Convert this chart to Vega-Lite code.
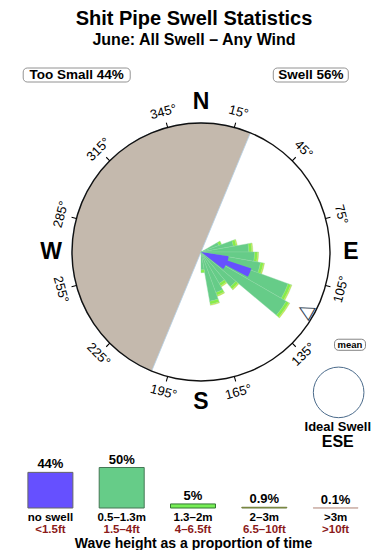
{
  "$schema": "https://vega.github.io/schema/vega-lite/v6.json",
  "autosize": {"type": "pad"},
  "padding": {"left": 12, "top": 8, "right": 0, "bottom": 0},
  "background": "white",
  "title": {
    "text": "Shit Pipe Swell Statistics",
    "subtitle": "June: All Swell – Any Wind",
    "font": "Liberation Sans",
    "subtitleFont": "Liberation Sans",
    "fontSize": 20,
    "fontWeight": "bold",
    "subtitleFontSize": 16,
    "subtitleFontWeight": "bold",
    "color": "black",
    "subtitleColor": "black",
    "anchor": "middle",
    "offset": 20,
    "subtitlePadding": 3,
    "dx": -7
  },
  "bounds": "flush",
  "spacing": 10,
  "resolve": {"scale": {"x": "independent", "y": "independent", "size": "independent", "color": "independent"}},
  "vconcat": [
    {
      "width": 363.5,
      "height": 14,
      "data": {"values": [
        {"key": "Too Small", "label": "Too Small 44%"},
        {"key": "Swell", "label": "Swell 56%"}
      ]},
      "encoding": {
        "x": {"field": "key", "type": "nominal", "sort": null, "scale": {"type": "band", "paddingInner": 0.9, "paddingOuter": 0.2264}, "axis": null}
      },
      "layer": [
        {
          "transform": [{"filter": "datum.key == 'Too Small'"}],
          "mark": {"type": "bar", "width": 107, "fill": "white", "stroke": "#777777", "strokeWidth": 0.8, "cornerRadius": 4}
        },
        {
          "transform": [{"filter": "datum.key == 'Swell'"}],
          "mark": {"type": "bar", "width": 75, "fill": "white", "stroke": "#777777", "strokeWidth": 0.8, "cornerRadius": 4}
        },
        {
          "mark": {"type": "text", "fontSize": 13.5, "fontWeight": "bold", "color": "black"},
          "encoding": {"text": {"field": "label"}}
        }
      ]
    },
    {
      "width": 378,
      "height": 320,
      "layer": [
        {
          "data": {"values": [{"from": 202.5, "to": 382.5}]},
          "mark": {"type": "arc", "outerRadius": 129, "fill": "#c4b9ad", "stroke": "#b4cfe6", "strokeWidth": 0.8},
          "encoding": {
            "theta": {"field": "from", "type": "quantitative", "scale": {"domain": [0, 360], "range": [0, 6.283185307179586], "nice": false, "zero": false}},
            "theta2": {"field": "to"}
          }
        },
        {
          "data": {"values": [
            {"dir": 65, "band": "0.5–1.3m", "from": 0, "to": 1.65},
            {"dir": 65, "band": "1.3–2m", "from": 1.65, "to": 1.9},
            {"dir": 75, "band": "0.5–1.3m", "from": 0, "to": 2.85},
            {"dir": 75, "band": "1.3–2m", "from": 2.85, "to": 3.1},
            {"dir": 75, "band": "2–3m", "from": 3.1, "to": 3.2},
            {"dir": 85, "band": "0.5–1.3m", "from": 0, "to": 4.15},
            {"dir": 85, "band": "1.3–2m", "from": 4.15, "to": 4.4},
            {"dir": 85, "band": "2–3m", "from": 4.4, "to": 4.5},
            {"dir": 95, "band": "0.5–1.3m", "from": 0, "to": 4.65},
            {"dir": 95, "band": "1.3–2m", "from": 4.65, "to": 4.9},
            {"dir": 95, "band": "2–3m", "from": 4.9, "to": 5.0},
            {"dir": 105, "band": "0.5–1.3m", "from": 0, "to": 5.25},
            {"dir": 105, "band": "1.3–2m", "from": 5.25, "to": 5.5},
            {"dir": 105, "band": "2–3m", "from": 5.5, "to": 5.6},
            {"dir": 115, "band": "0.5–1.3m", "from": 0, "to": 8.05},
            {"dir": 115, "band": "1.3–2m", "from": 8.05, "to": 8.3},
            {"dir": 115, "band": "2–3m", "from": 8.3, "to": 8.4},
            {"dir": 125, "band": "0.5–1.3m", "from": 0, "to": 8.55},
            {"dir": 125, "band": "1.3–2m", "from": 8.55, "to": 8.8},
            {"dir": 125, "band": "2–3m", "from": 8.8, "to": 8.9},
            {"dir": 135, "band": "0.5–1.3m", "from": 0, "to": 3.95},
            {"dir": 135, "band": "1.3–2m", "from": 3.95, "to": 4.2},
            {"dir": 135, "band": "2–3m", "from": 4.2, "to": 4.3},
            {"dir": 145, "band": "0.5–1.3m", "from": 0, "to": 3.15},
            {"dir": 145, "band": "1.3–2m", "from": 3.15, "to": 3.4},
            {"dir": 145, "band": "2–3m", "from": 3.4, "to": 3.5},
            {"dir": 155, "band": "0.5–1.3m", "from": 0, "to": 3.75},
            {"dir": 155, "band": "1.3–2m", "from": 3.75, "to": 4.0},
            {"dir": 155, "band": "2–3m", "from": 4.0, "to": 4.1},
            {"dir": 165, "band": "0.5–1.3m", "from": 0, "to": 4.35},
            {"dir": 165, "band": "1.3–2m", "from": 4.35, "to": 4.6},
            {"dir": 165, "band": "2–3m", "from": 4.6, "to": 4.7},
            {"dir": 175, "band": "0.5–1.3m", "from": 0, "to": 1.55},
            {"dir": 175, "band": "1.3–2m", "from": 1.55, "to": 1.8}
          ]},
          "mark": {"type": "arc", "thetaOffset": -0.0873, "theta2Offset": 0.0873, "stroke": "#8ad6a2", "strokeWidth": 0.4},
          "encoding": {
            "theta": {"field": "dir", "type": "quantitative"},
            "theta2": {"field": "dir"},
            "radius": {"field": "to", "type": "quantitative", "scale": {"type": "linear", "domain": [0, 11.2], "range": [0, 129], "nice": false, "zero": true}},
            "radius2": {"field": "from"},
            "color": {"field": "band", "type": "nominal", "scale": {"domain": ["0.5–1.3m", "1.3–2m", "2–3m"], "range": ["#66cc88", "#88ee44", "#ddee33"]}, "legend": null}
          }
        },
        {
          "data": {"values": [{"dir": 113}]},
          "mark": {"type": "arc", "innerRadius": 22, "outerRadius": 53, "thetaOffset": -0.085, "theta2Offset": 0.085, "fill": "#6650ff"},
          "encoding": {
            "theta": {"field": "dir", "type": "quantitative"},
            "theta2": {"field": "dir"}
          }
        },
        {
          "data": {"values": [{"dir": 113}]},
          "mark": {"type": "arc", "outerRadius": 28, "thetaOffset": -0.25, "theta2Offset": 0.25, "fill": "#6650ff"},
          "encoding": {
            "theta": {"field": "dir", "type": "quantitative"},
            "theta2": {"field": "dir"}
          }
        },
        {
          "data": {"values": [{}]},
          "mark": {"type": "arc", "innerRadius": 128.3, "outerRadius": 129.7, "fill": "#111111"},
          "encoding": {
            "theta": {"datum": 0, "type": "quantitative"},
            "theta2": {"datum": 360}
          }
        },
        {
          "data": {"values": [
            {"deg": 15, "lab": "15°"}, {"deg": 45, "lab": "45°"}, {"deg": 75, "lab": "75°"},
            {"deg": 105, "lab": "105°"}, {"deg": 135, "lab": "135°"}, {"deg": 165, "lab": "165°"},
            {"deg": 195, "lab": "195°"}, {"deg": 225, "lab": "225°"}, {"deg": 255, "lab": "255°"},
            {"deg": 285, "lab": "285°"}, {"deg": 315, "lab": "315°"}, {"deg": 345, "lab": "345°"}
          ]},
          "layer": [
            {
              "mark": {"type": "arc", "innerRadius": 129, "outerRadius": 134, "thetaOffset": -0.004, "theta2Offset": 0.004, "fill": "black"},
              "encoding": {
                "theta": {"field": "deg", "type": "quantitative"},
                "theta2": {"field": "deg"}
              }
            },
            {
              "mark": {"type": "text", "radius": 145, "fontSize": 13, "baseline": "middle", "align": "center", "color": "black"},
              "encoding": {
                "theta": {"field": "deg", "type": "quantitative"},
                "text": {"field": "lab"},
                "angle": {"field": "deg", "type": "quantitative", "scale": {"domain": [0, 89.9, 90.1, 269.9, 270.1, 360], "range": [0, 89.9, -89.9, 89.9, -89.9, 0]}}
              }
            }
          ]
        },
        {
          "data": {"values": [
            {"deg": 0, "lab": "N"}, {"deg": 90, "lab": "E"}, {"deg": 180, "lab": "S"}, {"deg": 270, "lab": "W"}
          ]},
          "mark": {"type": "text", "radius": 150, "fontSize": 23, "fontWeight": "bold", "baseline": "middle", "align": "center", "color": "black"},
          "encoding": {
            "theta": {"field": "deg", "type": "quantitative"},
            "text": {"field": "lab"}
          }
        },
        {
          "data": {"values": [{"dir": 119}]},
          "mark": {"type": "text", "radius": 120, "angle": 29, "fontSize": 20, "font": "DejaVu Sans", "color": "#334455", "baseline": "middle", "align": "center"},
          "encoding": {
            "theta": {"field": "dir", "type": "quantitative"},
            "text": {"value": "◁"}
          }
        },
        {
          "data": {"values": [{}]},
          "layer": [
            {
              "mark": {"type": "rect", "fill": "white", "stroke": "#666666", "strokeWidth": 0.8, "cornerRadius": 4},
              "encoding": {
                "x": {"datum": 1.035, "type": "quantitative", "scale": {"domain": [-1.465, 1.465], "nice": false, "zero": false}, "axis": null},
                "x2": {"datum": 1.275},
                "y": {"datum": -0.676, "type": "quantitative", "scale": {"domain": [-1.24, 1.24], "nice": false, "zero": false}, "axis": null},
                "y2": {"datum": -0.762}
              }
            },
            {
              "mark": {"type": "text", "fontSize": 9.5, "fontWeight": "bold", "color": "black"},
              "encoding": {
                "x": {"datum": 1.155, "type": "quantitative"},
                "y": {"datum": -0.719, "type": "quantitative"},
                "text": {"value": "mean"}
              }
            },
            {
              "mark": {"type": "point", "shape": "circle", "size": 2560, "filled": false, "stroke": "#4b6b8b", "strokeWidth": 1, "opacity": 1},
              "encoding": {
                "x": {"datum": 1.067, "type": "quantitative"},
                "y": {"datum": -1.088, "type": "quantitative"}
              }
            },
            {
              "mark": {"type": "text", "fontSize": 13, "fontWeight": "bold", "color": "black"},
              "encoding": {
                "x": {"datum": 1.06, "type": "quantitative"},
                "y": {"datum": -1.353, "type": "quantitative"},
                "text": {"value": "Ideal Swell"}
              }
            },
            {
              "mark": {"type": "text", "fontSize": 16, "fontWeight": "bold", "color": "black"},
              "encoding": {
                "x": {"datum": 1.06, "type": "quantitative"},
                "y": {"datum": -1.469, "type": "quantitative"},
                "text": {"value": "ESE"}
              }
            }
          ]
        }
      ]
    },
    {
      "width": 362,
      "height": 86,
      "data": {"values": [
        {"cat": "no swell", "ft": "<1.5ft", "pct": 44, "label": "44%"},
        {"cat": "0.5–1.3m", "ft": "1.5–4ft", "pct": 50, "label": "50%"},
        {"cat": "1.3–2m", "ft": "4–6.5ft", "pct": 5, "label": "5%"},
        {"cat": "2–3m", "ft": "6.5–10ft", "pct": 0.9, "label": "0.9%"},
        {"cat": ">3m", "ft": ">10ft", "pct": 0.1, "label": "0.1%"}
      ]},
      "encoding": {
        "x": {
          "field": "cat", "type": "nominal", "sort": null,
          "scale": {"paddingInner": 0.369, "paddingOuter": 0.223},
          "axis": {"title": "Wave height as a proportion of time", "labels": false, "ticks": false, "domain": false, "titleFontSize": 14, "titleFontWeight": "bold", "titleColor": "black", "titlePadding": 28, "titleFont": "Liberation Sans"}
        }
      },
      "layer": [
        {
          "mark": {"type": "bar", "strokeWidth": 1},
          "encoding": {
            "y": {"field": "pct", "type": "quantitative", "scale": {"domain": [0, 106.2], "nice": false}, "axis": null},
            "fill": {"field": "cat", "type": "nominal", "sort": null, "scale": {"domain": ["no swell", "0.5–1.3m", "1.3–2m", "2–3m", ">3m"], "range": ["#6650ff", "#66cc88", "#77ee55", "#dde63a", "#eebbaa"]}, "legend": null},
            "stroke": {"field": "cat", "type": "nominal", "sort": null, "scale": {"domain": ["no swell", "0.5–1.3m", "1.3–2m", "2–3m", ">3m"], "range": ["#666666", "#447755", "#337733", "#6b7a3c", "#c8aaa0"]}, "legend": null}
          }
        },
        {
          "mark": {"type": "text", "baseline": "alphabetic", "dy": -4, "fontSize": 13, "fontWeight": "bold", "color": "black"},
          "encoding": {
            "y": {"field": "pct", "type": "quantitative", "axis": null},
            "text": {"field": "label"}
          }
        },
        {
          "mark": {"type": "text", "baseline": "alphabetic", "dy": 13, "fontSize": 11.5, "fontWeight": "bold", "color": "black"},
          "encoding": {
            "y": {"datum": 0, "type": "quantitative", "axis": null},
            "text": {"field": "cat"}
          }
        },
        {
          "mark": {"type": "text", "baseline": "alphabetic", "dy": 25, "fontSize": 11.5, "fontWeight": "bold", "color": "#8b1a1a"},
          "encoding": {
            "y": {"datum": 0, "type": "quantitative", "axis": null},
            "text": {"field": "ft"}
          }
        }
      ]
    }
  ],
  "config": {
    "view": {"stroke": null},
    "font": "Liberation Sans",
    "text": {"font": "Liberation Sans"}
  }
}
